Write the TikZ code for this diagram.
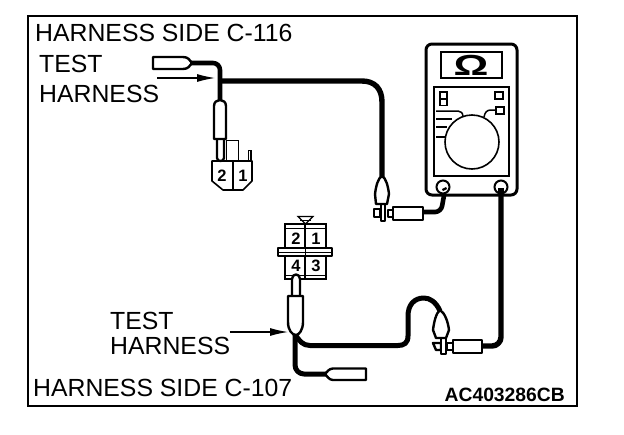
\documentclass[tikz,border=0pt]{standalone}
\usepackage{fontspec}
\setmainfont{Liberation Sans}
\usetikzlibrary{arrows.meta}
\tikzset{
  lbl/.style={inner sep=0pt,anchor=base west,font=\fontsize{24.8}{26}\selectfont},
  pinno/.style={inner sep=0pt,font=\bfseries\fontsize{16.5}{17}\selectfont},
  wire/.style={line width=4.6pt,line join=round},
  thick wire/.style={line width=5.4pt,line join=round},
  part/.style={draw=black,fill=white,line width=2.4pt,line join=round},
  thin part/.style={draw=black,fill=white,line width=1.1pt},
  pointer/.style={line width=1.1pt,-{Latex[length=18pt,width=8pt]}},
}
\begin{document}
\begin{tikzpicture}[x=1pt,y=-1pt]
\useasboundingbox (0,0) rectangle (624,434);
\draw[line width=2pt] (28,16) rectangle (577,406);

% labels
\node[lbl] (t1) at (35,41) {HARNESS SIDE C-116};
\node[lbl] (t2) at (39,72) {TEST};
\node[lbl] (t3) at (39,102) {HARNESS};
\node[lbl] (t4) at (110,329) {TEST};
\node[lbl] (t5) at (110,354) {HARNESS};
\node[lbl] (t6) at (33,396) {HARNESS SIDE C-107};
\node[inner sep=0pt,anchor=base east,font=\bfseries\fontsize{19.3}{20}\selectfont] (t7) at (565,401) {AC403286CB};

% named wire ends
\coordinate (j1) at (220,81);
\coordinate (p1) at (191,63);
\coordinate (b1) at (220,101);
\coordinate (m1) at (382,178);
\coordinate (t-a) at (445,190);
\coordinate (q1) at (422,212);
\coordinate (t-b) at (501,187);
\coordinate (q2) at (482,346);
\coordinate (m2) at (440,311);
\coordinate (j2) at (295,334);
\coordinate (p2) at (326,374);

% wires
\draw[wire,rounded corners=7pt] (p1) -- (220,63) -- (b1);
\draw[thick wire] (j1) -- (362,81) .. controls (375,81) and (382,89) .. (382,102) -- (m1);
\draw[wire,rounded corners=6pt] (t-a) -- (441,212) -- (q1);
\draw[thick wire,rounded corners=9pt] (t-b) -- (501,346) -- (q2);
\draw[wire,line width=5pt] (m2) .. controls (436,302) and (430,298) .. (424,298) .. controls (414,298) and (408,305) .. (408,316) -- (408,336) .. controls (408,343) and (404,345.5) .. (398,345.5) -- (310,345.5) .. controls (303,345.5) and (299,341) .. (j2);
\draw[wire,line width=5pt,rounded corners=9pt] (j2) -- (295,374) -- (p2);

% free plug at C-116
\draw[part] (153,57) -- (183,57) .. controls (188,57) and (190,60) .. (192,63) .. controls (190,66) and (188,69) .. (183,69) -- (153,69) -- cycle;

% C-116 connector
\draw[line width=1pt,fill=white] (226,161) -- (226,140) -- (238,140) -- (238,161);
\draw[line width=1pt] (248,161) -- (248,150) -- (251,150);
\draw[part,line width=1.6pt] (212,161) -- (252,161) -- (252,181) -- (243,190) -- (223,190) -- (212,181) -- cycle;
\draw[line width=1.5pt] (233,161) -- (233,190);
\draw[line width=1.5pt] (251,150) -- (251,161);
\node[pinno] (c1b) at (222,176) {2};
\node[pinno] (c1a) at (243,176) {1};
\draw[part] (217,139) -- (217,158) .. controls (217,162) and (224,162) .. (224,158) -- (224,139);
\draw[part] (214,139) -- (214,106) .. controls (214,102) and (217,100) .. (220,100) .. controls (223,100) and (226,102) .. (226,106) -- (226,139) -- cycle;

% multimeter
\draw[draw=black,fill=white,line width=3pt,rounded corners=6pt] (426,44) rectangle (517,195);
\draw[line width=2.2pt] (441,52) rectangle (502,78);
\node[inner sep=0pt,xscale=1.5,font=\bfseries\fontsize{29}{29}\selectfont] (om) at (471,65) {Ω};
\draw[line width=2.4pt] (434,87) rectangle (509,176);
\draw[line width=1.3pt,draw=black] (440,92) rectangle (447,98.5);
\draw[line width=1.3pt,draw=black] (440,99) rectangle (447,105.5);
\draw[line width=1.8pt] (495,92) rectangle (503,99);
\draw[line width=1.8pt] (496,107) rectangle (504,114);
\draw[line width=1.5pt] (436,111) -- (458,111) .. controls (461,111) and (463,113) .. (463,117);
\draw[line width=1.5pt] (436,119) -- (452,119);
\draw[line width=1.5pt] (436,127) -- (447,127);
\draw[line width=1.5pt] (436,137) -- (445,137);
\draw[line width=1.5pt] (484,117) .. controls (485,112) and (487,110) .. (491,110) -- (496,110);
\draw[line width=1.6pt] (472,142) circle[radius=27];
\draw[line width=2pt,fill=white] (443,187) circle[radius=6.5];
\draw[line width=2pt,fill=white] (501,187) circle[radius=6.5];
\draw[line width=4.6pt] (444,188) -- (t-a);
\draw[line width=5.4pt] (501,188) -- (501,196);

% probe on meter lead 1
\draw[part] (393,207) rectangle (423,220);
\draw[part] (388,210) rectangle (393,217);
\draw[part] (374,209) -- (380,209) -- (380,217) -- (374,217) -- cycle;
\draw[part] (381,204) rectangle (385,221);
\draw[part] (376,204) -- (375,194) .. controls (376,186) and (378,178) .. (382,176) .. controls (386,178) and (388,186) .. (389,194) -- (387,204) -- cycle;

% probe on meter lead 2
\draw[part] (453,340) rectangle (482,353);
\draw[part] (447,343) rectangle (453,350);
\draw[part] (433,343) -- (441,343) -- (441,350) -- (436,350) -- cycle;
\draw[part] (441,338) rectangle (446,354);
\draw[part] (436,338) -- (433,330) .. controls (434,322) and (436,313) .. (440,310) .. controls (445,313) and (448,322) .. (449,330) -- (446,338) -- cycle;

% C-107 connector
\draw[thin part,line width=1.4pt] (285,224) rectangle (326,279);
\draw[line width=1pt] (285,228) -- (326,228);
\draw[line width=1pt] (285,275) -- (326,275);
\draw[line width=1.4pt] (305,224) -- (305,279);
\draw[part,line width=1.4pt] (278,248) rectangle (332,256);
\draw[line width=1pt] (278,252) -- (332,252);
\draw[line width=1pt] (305,248) -- (305,256);
\draw[line width=1.2pt,fill=white] (298,216.5) -- (313,216.5) -- (305.5,224) -- cycle;
\draw[line width=1pt] (300,220) -- (311,220);
\node[pinno] (c2b) at (296,239) {2};
\node[pinno] (c2a) at (316,239) {1};
\node[pinno] (c2d) at (296,266) {4};
\node[pinno] (c2c) at (316,266) {3};
\draw[part] (292,296) -- (292,279) .. controls (292,273) and (300,273) .. (300,279) -- (300,296);
\draw[part] (288,296) -- (303,296) -- (303,322) .. controls (303,330) and (299,335) .. (296,335) .. controls (292,335) and (288,330) .. (288,322) -- cycle;

% free plug at C-107
\draw[part] (366,368.5) -- (333,368.5) .. controls (329,368.5) and (327,372) .. (325,374) .. controls (327,376) and (329,380) .. (333,380) -- (366,380) -- cycle;

% pointers
\coordinate (a1) at (157,78);
\coordinate (a2) at (215,78);
\coordinate (a3) at (230,332);
\coordinate (a4) at (288,332);
\draw[pointer] (a1) -- (a2);
\draw[pointer] (a3) -- (a4);
\end{tikzpicture}
\end{document}
